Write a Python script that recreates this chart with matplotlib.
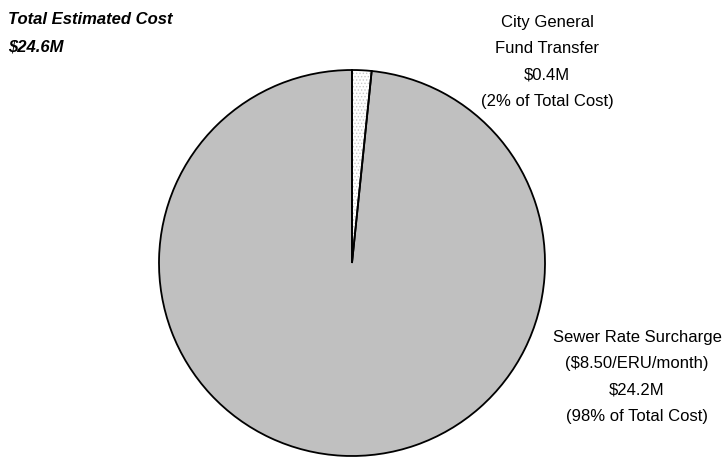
import matplotlib.pyplot as plt

# Data
sources = ['City General Fund Transfer', 'Sewer Rate Surcharge']
costs = [0.4, 24.2]  # $M
total_cost = 24.6
labels = ['City General\nFund Transfer\n$0.4M\n(2% of Total Cost)',
          'Sewer Rate Surcharge\n($8.50/ERU/month)\n$24.2M\n(98% of Total Cost)']

plt.rcParams['font.family'] = ['Liberation Sans Narrow', 'Liberation Sans', 'DejaVu Sans']
plt.rcParams['hatch.color'] = '#b0b0b0'
plt.rcParams['hatch.linewidth'] = 0.6

W, H = 726, 457
fig = plt.figure(figsize=(W / 100, H / 100), dpi=100)
ax = fig.add_axes([0, 0, 1, 1])

centro = (352, H - 263)
raio = 193

# fill with the dotted pattern on the small slice
wedges, _ = ax.pie(costs, startangle=90, counterclock=False, center=centro, radius=raio,
                   colors=['white', '#c0c0c0'], frame=True,
                   wedgeprops=dict(linewidth=0, edgecolor='#c8c8c8'))
wedges[0].set_hatch('.....')
# black outlines on top
ax.pie(costs, startangle=90, counterclock=False, center=centro, radius=raio,
       colors=['none', 'none'], frame=True,
       wedgeprops=dict(linewidth=1.3, edgecolor='black'))
ax.set_xlim(0, W)
ax.set_ylim(0, H)
ax.set_aspect('equal')
ax.axis('off')

ax.text(8, H - 33.5, f'Total Estimated Cost\n${total_cost}M', ha='left', va='center',
        fontsize=12, fontweight='bold', fontstyle='italic', linespacing=2.0)
ax.text(547, H - 62, labels[0], ha='center', va='center', fontsize=12, linespacing=1.97)
ax.text(637, H - 377, labels[1], ha='center', va='center', fontsize=12, linespacing=1.97)

fig.savefig('out.png', dpi=100)
